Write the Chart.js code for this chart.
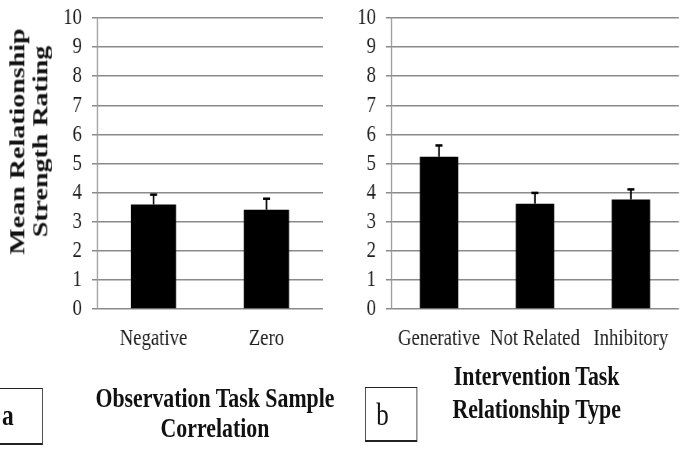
<!DOCTYPE html>
<html>
<head>
<meta charset="utf-8">
<script src="https://cdn.jsdelivr.net/npm/chart.js@4"></script>
<style>
  body { margin: 0; background: #fff; overflow: hidden; }
  #wrap {
    position: absolute; left: 0; top: 0;
    width: 872px; height: 456px;
    transform: scaleX(0.78); transform-origin: 0 0;
    font-family: "Liberation Serif", "Times New Roman", serif;
    color: #111;
  }
  canvas { position: absolute; top: 0; }
  .ytitle {
    position: absolute; width: 320px; height: 59px;
    left: -123.6px; top: 111.5px;
    transform: rotate(-90deg);
    font-size: 28px; font-weight: bold; line-height: 29.5px;
    text-align: center; white-space: nowrap;
  }
  .xtitle {
    position: absolute; font-size: 28px; font-weight: bold;
    text-align: center; white-space: nowrap; width: 400px;
  }
  .panel {
    position: absolute; box-sizing: border-box;
    border: 1.5px solid #222; border-bottom-width: 2.5px;
  }
</style>
</head>
<body>
<div id="wrap">
  <canvas id="obsChart" width="436" height="360" style="left:0"></canvas>
  <canvas id="intChart" width="436" height="360" style="left:436px"></canvas>

  <div class="ytitle">Mean Relationship<br>Strength Rating</div>

  <div class="panel" style="left:-25px; top:388px; width:80px; height:57px;"></div>
  <div style="position:absolute; left:0; top:395px; width:20px; text-align:center; font-size:30px; font-weight:bold; line-height:40px;">a</div>
  <div class="xtitle" style="left:75.6px; top:382.5px; line-height:30px;">Observation Task Sample<br>Correlation</div>

  <div class="panel" style="left:468px; top:387px; width:67px; height:55px;"></div>
  <div style="position:absolute; left:468px; top:389px; width:45px; text-align:center; font-size:32px; line-height:50px;">b</div>
  <div class="xtitle" style="left:488px; top:359px; line-height:33px;">Intervention Task<br>Relationship Type</div>
</div>

<script>
// observation task (panel a)
const obsCategories = ["Negative", "Zero"];
const obsMeans = [3.59, 3.41];
const obsErrors = [0.34, 0.38];

// intervention task (panel b)
const intCategories = ["Generative", "Not Related", "Inhibitory"];
const intMeans = [5.23, 3.62, 3.76];
const intErrors = [0.39, 0.37, 0.35];

const yMin = 0;
const yMax = 10;
const yStep = 1;

const gridColor = "#8a8a8a";
const textColor = "#1e1e1e";

/* =========================
   ERROR BARS (upper only)
========================= */

const errorBarPlugin = {
    id: "errorBars",
    afterDatasetsDraw(chart) {
        const ctx = chart.ctx;
        const yScale = chart.scales.y;
        const errors = chart.options.plugins.errorBars.errors;
        const means = chart.data.datasets[0].data;
        const meta = chart.getDatasetMeta(0);
        ctx.save();
        ctx.strokeStyle = "#000";
        meta.data.forEach((bar, i) => {
            const top = yScale.getPixelForValue(means[i] + errors[i]);
            ctx.lineWidth = 2;
            ctx.beginPath();
            ctx.moveTo(bar.x, bar.y);
            ctx.lineTo(bar.x, top);
            ctx.stroke();
            ctx.lineWidth = 2.5;
            ctx.beginPath();
            ctx.moveTo(bar.x - 4.5, top);
            ctx.lineTo(bar.x + 4.5, top);
            ctx.stroke();
        });
        ctx.restore();
    }
};

/* =========================
   CHART BUILDER
========================= */

function makeChart(id, labels, means, errors, axisWidth, padRight) {
    const ctx = document.getElementById(id).getContext("2d");
    return new Chart(ctx, {
        type: "bar",
        data: {
            labels: labels,
            datasets: [{
                data: means,
                backgroundColor: "#000",
                borderWidth: 0,
                categoryPercentage: 1,
                barPercentage: 0.4
            }]
        },
        options: {
            responsive: false,
            animation: false,
            layout: { padding: { top: 18, right: padRight, left: 0, bottom: 0 } },
            scales: {
                x: {
                    grid: { display: false, drawTicks: false },
                    border: { display: false },
                    ticks: {
                        padding: 15,
                        color: textColor,
                        font: { family: "Liberation Serif", size: 24 },
                        maxRotation: 0,
                        autoSkip: false
                    },
                    afterFit(scale) { scale.height = 51; }
                },
                y: {
                    min: yMin,
                    max: yMax,
                    grid: { color: gridColor, lineWidth: 1.5, tickLength: 6.4 },
                    border: { color: gridColor, width: 1.5 },
                    ticks: {
                        stepSize: yStep,
                        autoSkip: false,
                        padding: 13,
                        color: textColor,
                        font: { family: "Liberation Serif", size: 24 }
                    },
                    afterFit(scale) {
                        scale.width = axisWidth;
                        // tick padding would otherwise push the plot top down
                        scale.paddingTop = 0;
                    }
                }
            },
            plugins: {
                legend: { display: false },
                tooltip: { enabled: false },
                errorBars: { errors: errors }
            }
        },
        plugins: [errorBarPlugin]
    });
}

makeChart("obsChart", obsCategories, obsMeans, obsErrors, 124.4, 22);
makeChart("intChart", intCategories, intMeans, intErrors, 65.3, 1);
</script>
</body>
</html>
